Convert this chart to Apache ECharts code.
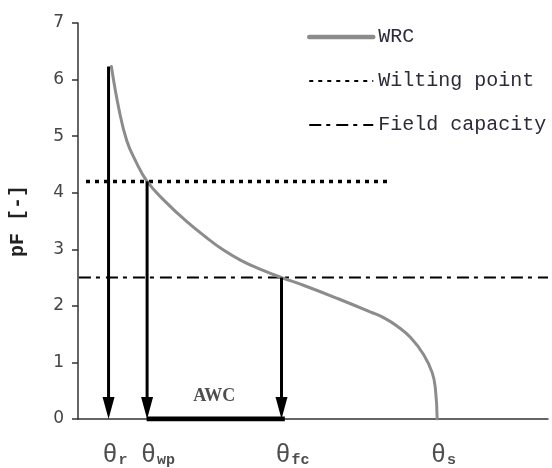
<!DOCTYPE html>
<html>
<head>
<meta charset="utf-8">
<script src="https://cdn.jsdelivr.net/npm/echarts@6/dist/echarts.min.js"></script>
<style>html,body{margin:0;padding:0;background:#fff}#c{width:552px;height:468px}</style>
</head>
<body>
<div id="c"></div>
<script>
// Water retention curve (x: relative water content, 0-100; y: pF)
const curveX  = [7.1, 8.75, 10.38, 12.14, 14.7, 18.86, 22.73, 26.97, 30.87, 34.75, 38.98, 43.3, 48.09, 55.23, 62.29, 65.3, 67.94, 70.76, 73.52, 75.36, 76.06, 76.42];
const curvePF = [6.23, 5.46, 4.92, 4.58, 4.20, 3.82, 3.52, 3.23, 2.99, 2.80, 2.64, 2.50, 2.36, 2.13, 1.89, 1.78, 1.64, 1.44, 1.14, 0.82, 0.52, 0];

const thetaX      = [6.5, 14.7, 43.3, 76.4];
const thetaNames  = ['r', 'wp', 'fc', 's'];
const arrowX      = [6.5, 14.7, 43.3];
const arrowTopPF  = [6.23, 4.2, 2.5];

const wiltPF = 4.2;
const wiltX  = [1.7, 66.1];
const fcPF   = 2.5;
const fcX    = [0.2, 100];

const awcX = [14.6, 44.0];
const awcLabelPos = [29.0, 0.40];

const yTicks = [0, 1, 2, 3, 4, 5, 6, 7];

const chart = echarts.init(document.getElementById('c'), null, {renderer: 'canvas'});

const noSym = {color: 'rgba(0,0,0,0)', borderColor: 'rgba(0,0,0,0)', borderWidth: 0};

const option = {
  animation: false,
  grid: {left: 76, right: 4, top: 23, bottom: 49, containLabel: false},
  legend: {
    data: [
      {name: 'WRC', itemStyle: noSym, lineStyle: {width: 4.5, color: '#8c8c8c', cap: 'round'}},
      {name: 'Wilting point', itemStyle: noSym},
      {name: 'Field capacity', itemStyle: noSym}
    ],
    orient: 'vertical',
    left: 302, top: 22,
    itemWidth: 64, itemHeight: 20, itemGap: 24,
    textStyle: {fontFamily: 'Liberation Mono', fontSize: 20, lineHeight: 20, color: '#2b2b3a'}
  },
  xAxis: {
    type: 'value', min: 0, max: 100,
    axisLine: {show: true, onZero: false, lineStyle: {color: '#333', width: 1.5}},
    axisTick: {show: false}, axisLabel: {show: false}, splitLine: {show: false}
  },
  yAxis: {
    type: 'value', min: yTicks[0], max: yTicks[yTicks.length - 1], interval: 1,
    name: 'pF [-]', nameLocation: 'middle', nameGap: 50,
    nameTextStyle: {fontFamily: 'Liberation Mono', fontWeight: 'bold', fontSize: 20, color: '#222'},
    axisLine: {show: true, lineStyle: {color: '#333', width: 1.5}},
    axisTick: {show: true, length: 6, lineStyle: {color: '#333', width: 1.5}},
    axisLabel: {fontFamily: 'DejaVu Sans', fontSize: 17, color: '#444', margin: 14},
    splitLine: {show: false}
  },
  series: [
    {
      name: 'Wilting point', type: 'line', symbol: 'none',
      data: wiltX.map(x => [x, wiltPF]),
      lineStyle: {color: '#000', width: 3.5, type: [4, 5]},
      itemStyle: {color: '#000'}, z: 3
    },
    {
      name: 'Field capacity', type: 'line', symbol: 'none',
      data: fcX.map(x => [x, fcPF]),
      lineStyle: {color: '#000', width: 2, type: [12, 5, 4, 6]},
      itemStyle: {color: '#000'}, z: 3
    },
    {
      name: 'WRC', type: 'line', symbol: 'none', smooth: 0.45,
      data: curveX.map((x, i) => [x, curvePF[i]]),
      lineStyle: {color: '#8c8c8c', width: 3, cap: 'round'},
      itemStyle: {color: '#8c8c8c'}, z: 4
    },
    {
      name: 'AWC bar', type: 'line', symbol: 'none',
      data: awcX.map(x => [x, 0]),
      lineStyle: {color: '#000', width: 5}, z: 5
    },
    {
      name: 'arrows', type: 'custom', z: 6,
      data: arrowX.map((x, i) => [x, arrowTopPF[i]]),
      renderItem: function (params, api) {
        const top = api.coord([api.value(0), api.value(1)]);
        const bot = api.coord([api.value(0), 0]);
        const headH = 22, headW = 12;
        return {
          type: 'group',
          children: [
            {type: 'line', shape: {x1: top[0], y1: top[1], x2: bot[0], y2: bot[1] - headH + 2},
             style: {stroke: '#000', lineWidth: 3}},
            {type: 'polygon', shape: {points: [[bot[0] - headW / 2, bot[1] - headH], [bot[0] + headW / 2, bot[1] - headH], [bot[0], bot[1]]]},
             style: {fill: '#000'}}
          ]
        };
      }
    },
    {
      name: 'theta labels', type: 'scatter', symbolSize: 0, z: 7,
      data: thetaX.map((x, i) => ({value: [x, 0], sub: thetaNames[i]})),
      label: {
        show: true, position: 'bottom', distance: 24, align: 'left', offset: [-6, 0],
        formatter: p => '{t|θ}{s|' + p.data.sub + '}',
        rich: {
          t: {fontFamily: 'Liberation Mono', fontSize: 25, color: '#222', verticalAlign: 'bottom'},
          s: {fontFamily: 'Liberation Mono', fontSize: 15, fontWeight: 'bold', color: '#222', verticalAlign: 'bottom', padding: [0, 0, 0, 1]}
        }
      },
      silent: true
    },
    {
      name: 'AWC label', type: 'scatter', symbolSize: 0, z: 7,
      data: [awcLabelPos],
      label: {show: true, position: 'inside', formatter: 'AWC',
        fontFamily: 'Liberation Serif', fontWeight: 'bold', fontSize: 18, color: '#222'},
      silent: true
    }
  ]
};
chart.setOption(option);
</script>
</body>
</html>
